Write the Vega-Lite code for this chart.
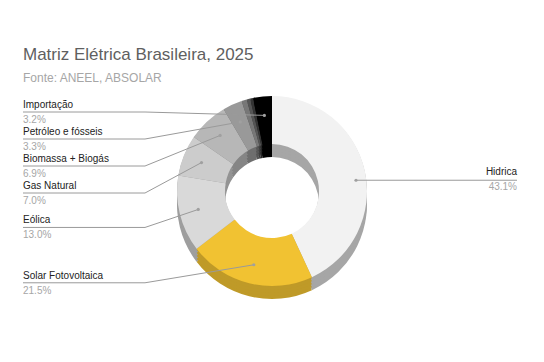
{
  "$schema": "https://vega.github.io/schema/vega-lite/v6.json",
  "width": 544,
  "height": 342,
  "autosize": {"type": "none"},
  "padding": {"left": 0, "right": 0, "top": 20, "bottom": 0},
  "background": "white",
  "config": {"view": {"stroke": null}, "font": "Liberation Sans"},
  "title": {
    "text": "Matriz Elétrica Brasileira, 2025",
    "subtitle": "Fonte: ANEEL, ABSOLAR",
    "anchor": "start",
    "frame": "group",
    "dx": 23,
    "offset": -65,
    "font": "Liberation Sans",
    "fontSize": 17,
    "fontWeight": "normal",
    "color": "#5f5f5f",
    "subtitleFont": "Liberation Sans",
    "subtitleFontSize": 12,
    "subtitleColor": "#a6a6a6",
    "subtitlePadding": 9
  },
  "data": {
    "values": [
      {"fonte": "Hidrica", "pct": 43.1, "ordem": 1},
      {"fonte": "Solar Fotovoltaica", "pct": 21.5, "ordem": 2},
      {"fonte": "Eólica", "pct": 13.0, "ordem": 3},
      {"fonte": "Gas Natural", "pct": 7.0, "ordem": 4},
      {"fonte": "Biomassa + Biogás", "pct": 6.9, "ordem": 5},
      {"fonte": "Petróleo e fósseis", "pct": 3.3, "ordem": 6},
      {"fonte": "Nuclear", "pct": 0.9, "ordem": 7},
      {"fonte": "Carvão", "pct": 0.6, "ordem": 8},
      {"fonte": "Outros", "pct": 0.5, "ordem": 9},
      {"fonte": "Importação", "pct": 3.2, "ordem": 10}
    ]
  },
  "layer": [
    {
      "mark": {"type": "arc", "innerRadius": 47, "outerRadius": 95, "yOffset": 13},
      "encoding": {
        "theta": {"field": "pct", "type": "quantitative", "stack": true},
        "order": {"field": "ordem", "type": "quantitative"},
        "fill": {"field": "fonte", "type": "nominal", "legend": null,
          "scale": {"domain": ["Hidrica", "Solar Fotovoltaica", "Eólica", "Gas Natural", "Biomassa + Biogás", "Petróleo e fósseis", "Nuclear", "Carvão", "Outros", "Importação"],
                    "range": ["#a6a6a6", "#bf9a28", "#9e9e9e", "#939393", "#858585", "#6e6e6e", "#565656", "#3e3e3e", "#262626", "#000000"]}}
      }
    },
    {
      "mark": {"type": "arc", "innerRadius": 47, "outerRadius": 95, "yOffset": 10},
      "encoding": {
        "theta": {"field": "pct", "type": "quantitative", "stack": true},
        "order": {"field": "ordem", "type": "quantitative"},
        "fill": {"field": "fonte", "type": "nominal", "legend": null}
      }
    },
    {
      "mark": {"type": "arc", "innerRadius": 47, "outerRadius": 95, "yOffset": 7},
      "encoding": {
        "theta": {"field": "pct", "type": "quantitative", "stack": true},
        "order": {"field": "ordem", "type": "quantitative"},
        "fill": {"field": "fonte", "type": "nominal", "legend": null}
      }
    },
    {
      "mark": {"type": "arc", "innerRadius": 47, "outerRadius": 95, "yOffset": 4},
      "encoding": {
        "theta": {"field": "pct", "type": "quantitative", "stack": true},
        "order": {"field": "ordem", "type": "quantitative"},
        "fill": {"field": "fonte", "type": "nominal", "legend": null}
      }
    },
    {
      "mark": {"type": "arc", "innerRadius": 47, "outerRadius": 95, "yOffset": 1},
      "encoding": {
        "theta": {"field": "pct", "type": "quantitative", "stack": true},
        "order": {"field": "ordem", "type": "quantitative"},
        "fill": {"field": "fonte", "type": "nominal", "legend": null}
      }
    },
    {
      "mark": {"type": "arc", "innerRadius": 47, "outerRadius": 95},
      "encoding": {
        "theta": {"field": "pct", "type": "quantitative", "stack": true},
        "order": {"field": "ordem", "type": "quantitative"},
        "color": {"field": "fonte", "type": "nominal", "legend": null,
          "scale": {"domain": ["Hidrica", "Solar Fotovoltaica", "Eólica", "Gas Natural", "Biomassa + Biogás", "Petróleo e fósseis", "Nuclear", "Carvão", "Outros", "Importação"],
                    "range": ["#f2f2f2", "#f1c232", "#d9d9d9", "#cccccc", "#b7b7b7", "#999999", "#777777", "#555555", "#333333", "#000000"]}}
      }
    },
    {
      "transform": [
        {"window": [{"op": "sum", "field": "pct", "as": "acum"}], "sort": [{"field": "ordem"}]},
        {"joinaggregate": [{"op": "sum", "field": "pct", "as": "total"}]},
        {"calculate": "2*PI*(datum.acum - datum.pct/2)/datum.total", "as": "ang"},
        {"calculate": "272 + 76*sin(datum.ang)", "as": "ax"},
        {"calculate": "191 - 76*cos(datum.ang)", "as": "ay"},
        {"filter": {"field": "fonte", "oneOf": ["Solar Fotovoltaica", "Eólica", "Gas Natural", "Biomassa + Biogás", "Petróleo e fósseis", "Importação"]}},
        {"window": [{"op": "row_number", "as": "pos"}], "sort": [{"field": "ordem", "order": "descending"}]},
        {"calculate": "datum.ay > 191 ? max(112 + 27*(datum.pos-1), datum.ay + 18) : 112 + 27*(datum.pos-1)", "as": "ly"},
        {"calculate": "23", "as": "lx"},
        {"calculate": "145", "as": "ex"},
        {"calculate": "format(datum.pct, '.1f') + '%'", "as": "rotulo"}
      ],
      "layer": [
        {
          "mark": {"type": "rule", "color": "#9a9a9a", "strokeWidth": 1},
          "encoding": {
            "x": {"field": "lx", "type": "quantitative", "axis": null, "scale": {"domain": [0, 544], "nice": false, "zero": false}},
            "x2": {"field": "ex"},
            "y": {"field": "ly", "type": "quantitative", "axis": null, "scale": {"domain": [20, 362], "reverse": true, "nice": false, "zero": false}}
          }
        },
        {
          "mark": {"type": "rule", "color": "#9a9a9a", "strokeWidth": 1},
          "encoding": {
            "x": {"field": "ex", "type": "quantitative"},
            "x2": {"field": "ax"},
            "y": {"field": "ly", "type": "quantitative"},
            "y2": {"field": "ay"}
          }
        },
        {
          "mark": {"type": "point", "filled": true, "size": 10, "color": "#a0a0a0", "opacity": 1},
          "encoding": {
            "x": {"field": "ax", "type": "quantitative"},
            "y": {"field": "ay", "type": "quantitative"}
          }
        },
        {
          "mark": {"type": "text", "align": "left", "baseline": "alphabetic", "dy": -4, "fontSize": 10, "color": "#222222", "font": "Liberation Sans"},
          "encoding": {
            "x": {"field": "lx", "type": "quantitative"},
            "y": {"field": "ly", "type": "quantitative"},
            "text": {"field": "fonte", "type": "nominal"}
          }
        },
        {
          "mark": {"type": "text", "align": "left", "baseline": "alphabetic", "dy": 11, "fontSize": 10, "color": "#a6a6a6", "font": "Liberation Sans"},
          "encoding": {
            "x": {"field": "lx", "type": "quantitative"},
            "y": {"field": "ly", "type": "quantitative"},
            "text": {"field": "rotulo", "type": "nominal"}
          }
        }
      ]
    },
    {
      "transform": [
        {"window": [{"op": "sum", "field": "pct", "as": "acum"}], "sort": [{"field": "ordem"}]},
        {"joinaggregate": [{"op": "sum", "field": "pct", "as": "total"}]},
        {"calculate": "2*PI*(datum.acum - datum.pct/2)/datum.total", "as": "ang"},
        {"calculate": "272 + 86*sin(datum.ang)", "as": "ax"},
        {"calculate": "191 - 50*cos(datum.ang)", "as": "ay"},
        {"filter": {"field": "fonte", "equal": "Hidrica"}},
        {"calculate": "517", "as": "rx"},
        {"calculate": "format(datum.pct, '.1f') + '%'", "as": "rotulo"}
      ],
      "layer": [
        {
          "mark": {"type": "rule", "color": "#9a9a9a", "strokeWidth": 1},
          "encoding": {
            "x": {"field": "ax", "type": "quantitative"},
            "x2": {"field": "rx"},
            "y": {"field": "ay", "type": "quantitative"}
          }
        },
        {
          "mark": {"type": "point", "filled": true, "size": 10, "color": "#a0a0a0", "opacity": 1},
          "encoding": {
            "x": {"field": "ax", "type": "quantitative"},
            "y": {"field": "ay", "type": "quantitative"}
          }
        },
        {
          "mark": {"type": "text", "align": "right", "baseline": "alphabetic", "dy": -5, "fontSize": 10, "color": "#222222", "font": "Liberation Sans"},
          "encoding": {
            "x": {"field": "rx", "type": "quantitative"},
            "y": {"field": "ay", "type": "quantitative"},
            "text": {"field": "fonte", "type": "nominal"}
          }
        },
        {
          "mark": {"type": "text", "align": "right", "baseline": "alphabetic", "dy": 10, "fontSize": 10, "color": "#a6a6a6", "font": "Liberation Sans"},
          "encoding": {
            "x": {"field": "rx", "type": "quantitative"},
            "y": {"field": "ay", "type": "quantitative"},
            "text": {"field": "rotulo", "type": "nominal"}
          }
        }
      ]
    }
  ]
}
